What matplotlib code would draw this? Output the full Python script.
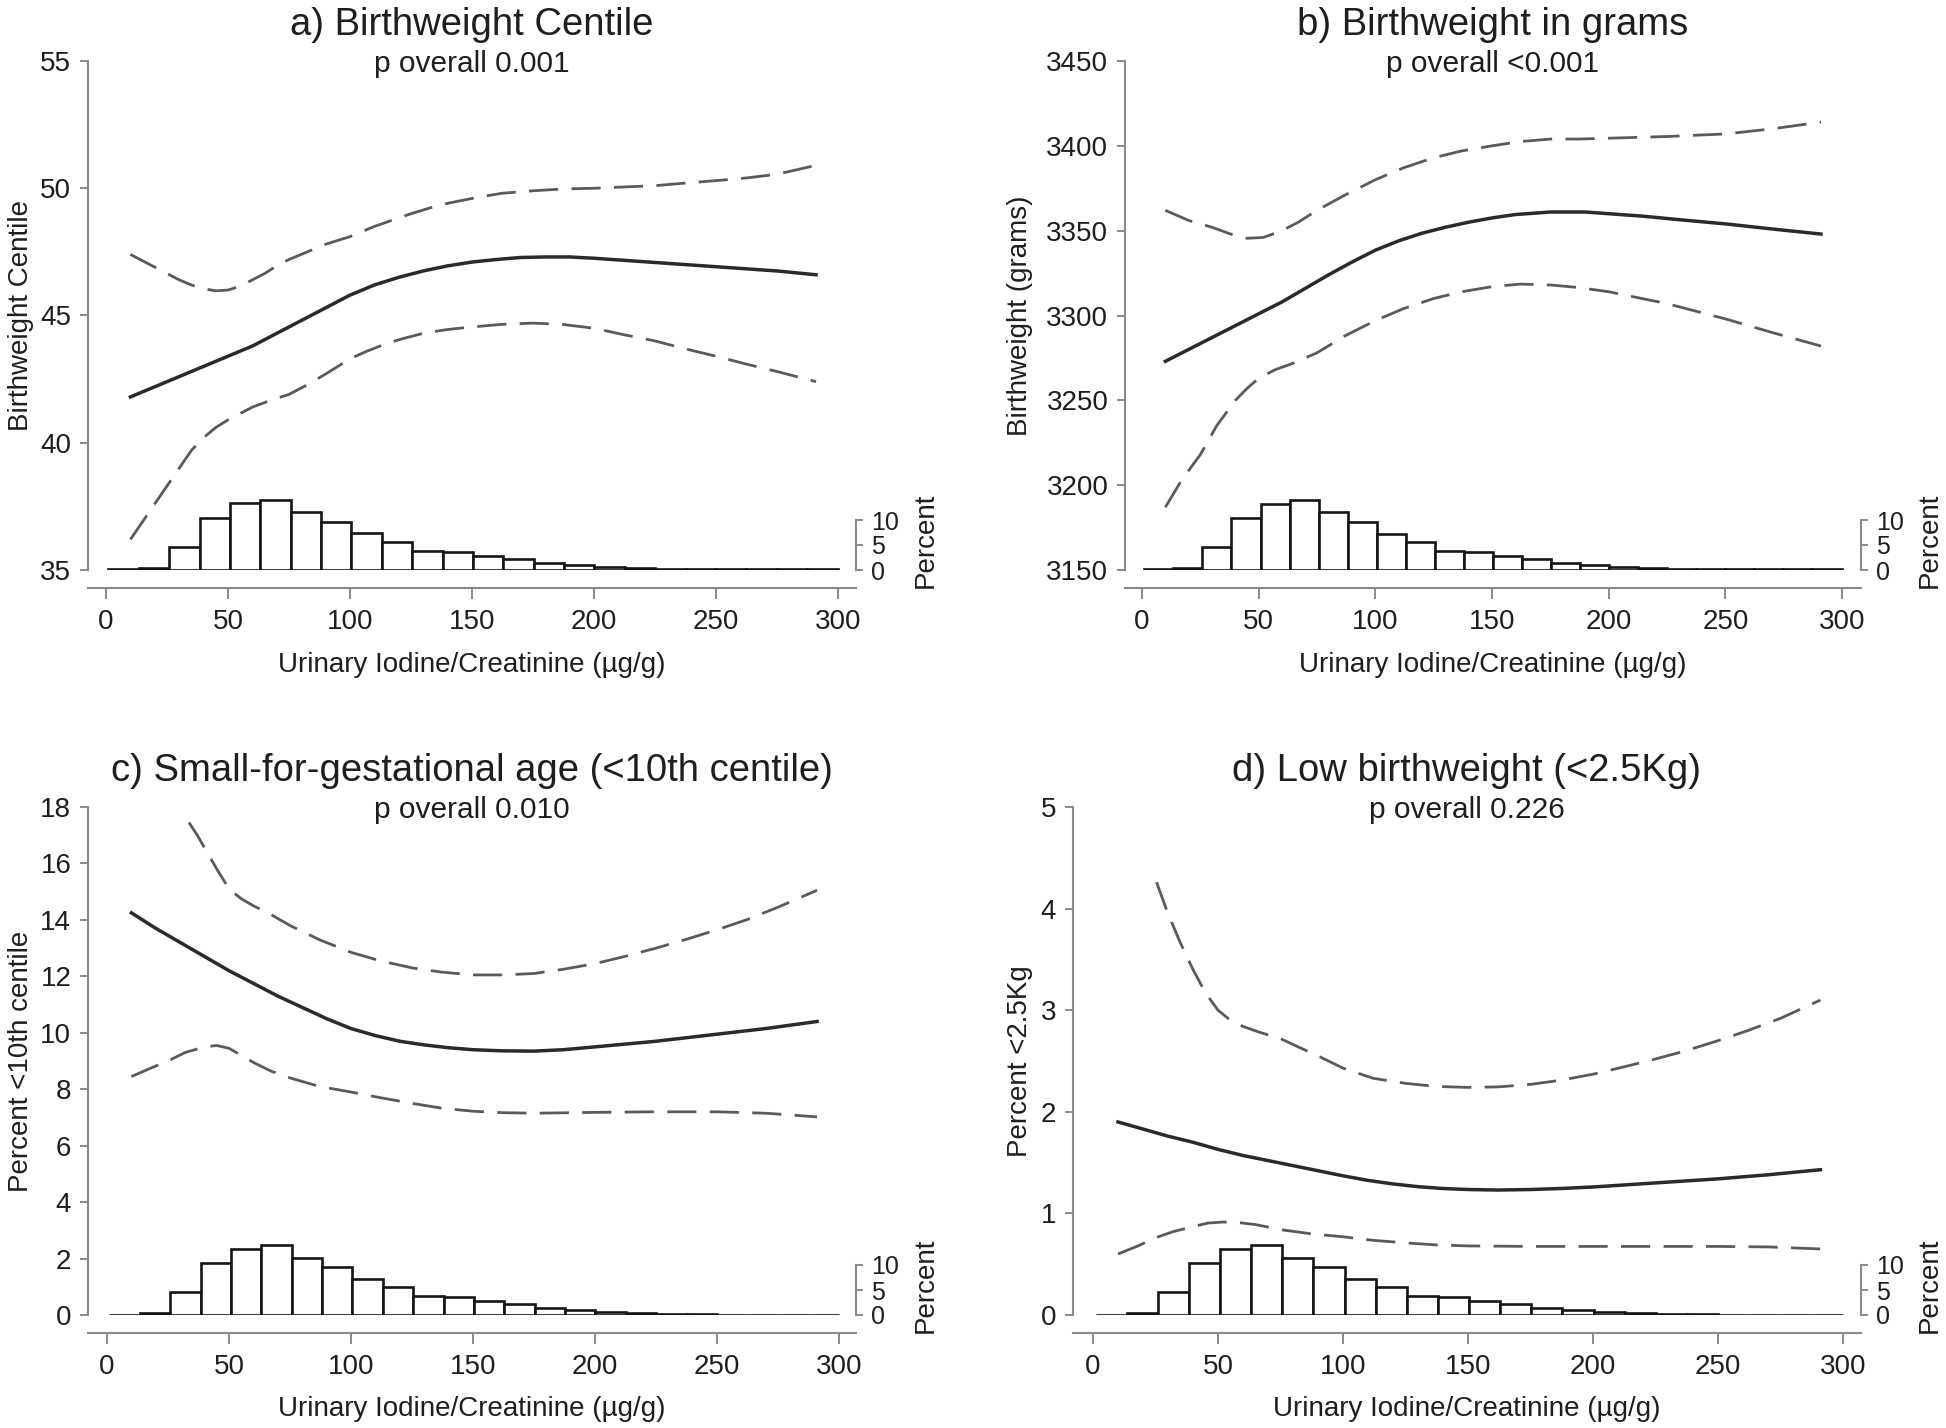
import matplotlib
matplotlib.use("Agg")
import matplotlib.pyplot as plt
import numpy as np

plt.rcParams['font.family'] = ['Liberation Sans', 'DejaVu Sans']

# ---------------- data ----------------
x_label = "Urinary Iodine/Creatinine (\u00b5g/g)"
x_ticks = [0, 50, 100, 150, 200, 250, 300]
pct_ticks = [0, 5, 10]

# histogram of urinary iodine/creatinine (percent per bin)
bin_start = 1.0
bin_width = 12.45
hist_pct = [0.1, 0.4, 4.6, 10.4, 13.3, 14.0, 11.5, 9.6, 7.3, 5.6, 3.85, 3.55,
            2.85, 2.15, 1.4, 0.95, 0.6, 0.35, 0.25, 0.2, 0.1, 0.1, 0.1, 0.1]

# a) Birthweight centile
a_x_fit = [10, 20, 30, 40, 50, 60, 70, 80, 90, 100, 110, 120, 130, 140, 150, 160, 170, 180, 190,
           200, 215, 230, 245, 260, 275, 291]
a_fit = [41.8, 42.2, 42.6, 43.0, 43.4, 43.8, 44.3, 44.8, 45.3, 45.8, 46.2, 46.5, 46.75, 46.95, 47.1,
         47.2, 47.28, 47.3, 47.3, 47.25, 47.15, 47.05, 46.95, 46.85, 46.75, 46.6]
a_x_up = [10, 15, 20, 25, 30, 35, 40, 45, 50, 55, 60, 65, 70, 75, 80, 90, 100, 110, 125, 137, 150,
          162, 175, 187, 200, 212, 225, 237, 250, 262, 275, 291]
a_up = [47.4, 47.15, 46.9, 46.65, 46.4, 46.2, 46.05, 45.97, 46.0, 46.15, 46.4, 46.65, 46.95, 47.2,
        47.4, 47.8, 48.1, 48.5, 49.0, 49.35, 49.6, 49.8, 49.9, 49.97, 50.0, 50.05, 50.1, 50.2, 50.3,
        50.4, 50.55, 50.9]
a_x_lo = [10, 15, 20, 25, 30, 35, 40, 45, 50, 55, 60, 67, 75, 82, 90, 95, 100, 107, 115, 122, 130,
          140, 150, 162, 175, 187, 200, 212, 225, 237, 250, 262, 275, 291]
a_lo = [36.2, 36.9, 37.6, 38.3, 39.0, 39.7, 40.2, 40.6, 40.9, 41.15, 41.4, 41.65, 41.9, 42.25, 42.7,
        43.0, 43.3, 43.6, 43.9, 44.1, 44.3, 44.45, 44.55, 44.65, 44.7, 44.65, 44.5, 44.25, 44.0,
        43.7, 43.4, 43.1, 42.8, 42.4]

# b) Birthweight in grams
b_x_fit = [10, 20, 30, 40, 50, 60, 70, 80, 90, 100, 110, 120, 130, 140, 150, 160, 175, 190, 200,
           215, 230, 250, 270, 291]
b_fit = [3273, 3280, 3287, 3294, 3301, 3308, 3316, 3324, 3331.5, 3338.5, 3344, 3348.5, 3352, 3355,
         3357.5, 3359.5, 3361, 3361, 3360, 3358.5, 3356.5, 3354, 3351, 3348]
b_x_up = [10, 20, 30, 38, 45, 52, 60, 67, 75, 87, 100, 112, 125, 137, 150, 162, 175, 187, 200, 225,
          250, 270, 291]
b_up = [3362, 3356, 3352, 3348, 3345.5, 3346, 3350, 3355, 3362, 3371, 3380, 3387, 3393, 3397, 3400,
        3402.5, 3404, 3404, 3404.5, 3405.5, 3407, 3410, 3414]
b_x_lo = [10, 17, 25, 32, 40, 45, 50, 57, 65, 75, 87, 100, 112, 125, 137, 150, 162, 175, 187, 200,
          225, 250, 270, 291]
b_lo = [3187, 3203, 3218, 3235, 3250, 3257, 3263, 3268, 3272, 3278, 3288, 3297, 3304, 3310, 3314,
        3317, 3318.5, 3318, 3316.5, 3314, 3307, 3298, 3290, 3282]

# c) Small-for-gestational age
c_x_fit = [10, 20, 30, 40, 50, 60, 70, 80, 90, 100, 110, 120, 130, 140, 150, 162, 175, 187, 200,
           225, 250, 270, 291]
c_fit = [14.25, 13.7, 13.2, 12.7, 12.2, 11.75, 11.3, 10.9, 10.5, 10.15, 9.9, 9.7, 9.57, 9.47, 9.4,
         9.36, 9.35, 9.4, 9.5, 9.7, 9.95, 10.15, 10.4]
c_x_up = [33.6, 37, 40, 45, 50, 55, 60, 67, 75, 87, 100, 112, 125, 137, 150, 162, 175, 187, 200,
          212, 225, 237, 250, 262, 275, 291]
c_up = [17.45, 17.0, 16.55, 15.8, 15.1, 14.75, 14.5, 14.2, 13.8, 13.3, 12.85, 12.55, 12.3, 12.15,
        12.05, 12.05, 12.1, 12.25, 12.45, 12.7, 13.0, 13.3, 13.65, 14.0, 14.45, 15.05]
c_x_lo = [10, 18, 25, 32, 40, 45, 50, 55, 60, 67, 75, 87, 100, 112, 125, 137, 150, 162, 175, 200,
          225, 250, 270, 291]
c_lo = [8.45, 8.75, 9.0, 9.3, 9.5, 9.55, 9.45, 9.2, 8.95, 8.65, 8.4, 8.1, 7.9, 7.7, 7.5, 7.33, 7.22,
        7.17, 7.15, 7.18, 7.2, 7.2, 7.15, 7.02]

# d) Low birthweight
d_x_fit = [10, 20, 30, 40, 50, 60, 70, 80, 90, 100, 110, 120, 130, 140, 150, 162, 175, 187, 200,
           225, 250, 270, 291]
d_fit = [1.9, 1.83, 1.76, 1.7, 1.63, 1.57, 1.52, 1.47, 1.42, 1.37, 1.325, 1.29, 1.263, 1.245, 1.235,
         1.23, 1.235, 1.245, 1.26, 1.3, 1.34, 1.38, 1.43]
d_x_up = [25.4, 30, 35, 40, 45, 50, 55, 60, 67, 75, 82, 90, 100, 112, 125, 137, 150, 162, 175, 187,
          200, 212, 225, 237, 250, 262, 275, 291]
d_up = [4.26, 3.95, 3.66, 3.4, 3.17, 3.0, 2.9, 2.84, 2.78, 2.72, 2.64, 2.55, 2.43, 2.33, 2.28, 2.25,
        2.24, 2.245, 2.27, 2.31, 2.37, 2.44, 2.52, 2.6, 2.7, 2.8, 2.92, 3.1]
d_x_lo = [10, 18, 25, 32, 40, 46, 52, 58, 65, 75, 87, 100, 112, 125, 137, 150, 175, 200, 225, 250,
          270, 291]
d_lo = [0.6, 0.68, 0.76, 0.82, 0.87, 0.905, 0.915, 0.91, 0.89, 0.84, 0.8, 0.77, 0.735, 0.71, 0.69,
        0.68, 0.675, 0.675, 0.675, 0.675, 0.67, 0.65]

titles = ["a) Birthweight Centile", "b) Birthweight in grams",
          "c) Small-for-gestational age (<10th centile)", "d) Low birthweight (<2.5Kg)"]
subtitles = ["p overall 0.001", "p overall <0.001", "p overall 0.010", "p overall 0.226"]
y_labels = ["Birthweight Centile", "Birthweight (grams)", "Percent <10th centile", "Percent <2.5Kg"]
y_limits = [(35, 55), (3150, 3450), (0, 18), (0, 5)]
y_steps = [5, 50, 2, 1]

series = [
    (a_x_fit, a_fit, a_x_up, a_up, a_x_lo, a_lo),
    (b_x_fit, b_fit, b_x_up, b_up, b_x_lo, b_lo),
    (c_x_fit, c_fit, c_x_up, c_up, c_x_lo, c_lo),
    (d_x_fit, d_fit, d_x_up, d_up, d_x_lo, d_lo),
]

# ---------------- layout (pixels) ----------------
W, H, DPI = 1946, 1428, 100
# left, right, top, bottom, px of x=0, px of x=300, ylabel centre x, xlabel centre y, Percent label (x, y)
layout = [
    (88, 856, 61, 570, 106, 838, 21, 665, 926, 540),
    (1125, 1861, 61, 570, 1142, 1842, 1020, 665, 1930, 540),
    (88, 856, 807, 1315, 107, 839, 21, 1409, 926, 1285),
    (1073, 1861, 807, 1315, 1093, 1843, 1020, 1409, 1930, 1285),
]
PX_PER_PCT = 5.0   # 10 % of the histogram spans 50 px

AX_COL = '#8a8a8a'
TXT_COL = '#1e1e1e'
DASH = (0, (10.5, 4.8))

fig = plt.figure(figsize=(W / DPI, H / DPI), dpi=DPI)

for i in range(4):
    l, r, t, b, x0, x300, ylx, xly, plx, ply = layout[i]
    rect = [l / W, 1 - b / H, (r - l) / W, (b - t) / H]
    hpx = b - t
    ax = fig.add_axes(rect)

    ppu = (x300 - x0) / 300.0
    xlim = ((l - x0) / ppu, (r - x0) / ppu)
    ax.set_xlim(*xlim)
    lo, hi = y_limits[i]
    ax.set_ylim(lo, hi)

    # histogram drawn in data space of the main axis
    unit_per_pct = (hi - lo) / hpx * PX_PER_PCT
    edges = bin_start + bin_width * np.arange(len(hist_pct))
    ax.bar(edges, np.array(hist_pct) * unit_per_pct, bottom=lo, width=bin_width, align='edge',
           facecolor='white', edgecolor='#151515', linewidth=1.9, zorder=1)

    xf, yf, xu, yu, xl, yl = series[i]
    ax.plot(xu, yu, color='#5a5a5a', lw=2.0, linestyle=DASH, zorder=3)
    ax.plot(xl, yl, color='#5a5a5a', lw=2.0, linestyle=DASH, zorder=3)
    ax.plot(xf, yf, color='#2a2a2a', lw=2.5, zorder=4, solid_joinstyle='round')

    ax.set_yticks(np.arange(lo, hi + y_steps[i] / 2, y_steps[i]))
    ax.set_xticks(x_ticks)
    for s in ['top', 'right']:
        ax.spines[s].set_visible(False)
    for s in ['left', 'bottom']:
        ax.spines[s].set_color(AX_COL)
        ax.spines[s].set_linewidth(1.5)
    ax.spines['bottom'].set_position(('outward', 13))
    ax.tick_params(axis='y', direction='out', length=6, width=1.4, color=AX_COL,
                   labelsize=20, labelcolor=TXT_COL, pad=6)
    ax.tick_params(axis='x', direction='out', length=8, width=1.4, color=AX_COL,
                   labelsize=20, labelcolor=TXT_COL, pad=7)

    ax.set_ylabel(y_labels[i], fontsize=20, color=TXT_COL)
    ax.yaxis.label.set_va('center')
    ax.yaxis.set_label_coords((ylx - l) / (r - l), 0.5)
    ax.set_xlabel(x_label, fontsize=20, color=TXT_COL)
    ax.xaxis.label.set_va('center')
    ax.xaxis.set_label_coords(0.5, (b - xly) / hpx)

    ax.text(0.5, 1.051, titles[i], transform=ax.transAxes, ha='center', va='baseline',
            fontsize=27.5, color=TXT_COL)
    ax.text(0.5, 0.978, subtitles[i], transform=ax.transAxes, ha='center', va='baseline',
            fontsize=21.5, color=TXT_COL)

    # right-hand "Percent" scale of the histogram
    axr = fig.add_axes(rect)
    axr.patch.set_visible(False)
    axr.set_ylim(0, 10 * hpx / (10 * PX_PER_PCT))
    axr.xaxis.set_visible(False)
    for s in ['top', 'left', 'bottom']:
        axr.spines[s].set_visible(False)
    axr.spines['right'].set_bounds(0, 10)
    axr.spines['right'].set_color(AX_COL)
    axr.spines['right'].set_linewidth(1.5)
    axr.yaxis.tick_right()
    axr.yaxis.set_label_position('right')
    axr.set_yticks(pct_ticks)
    axr.tick_params(axis='y', direction='out', length=5, width=1.4, color=AX_COL,
                    labelsize=18, labelcolor=TXT_COL, pad=6)
    axr.set_ylabel("Percent", fontsize=20, color=TXT_COL, rotation=90)
    axr.yaxis.label.set_va('center')
    axr.yaxis.label.set_ha('center')
    axr.yaxis.set_label_coords((plx - l) / (r - l), (b - ply) / hpx)

fig.savefig("out.png", dpi=DPI, facecolor='white')
